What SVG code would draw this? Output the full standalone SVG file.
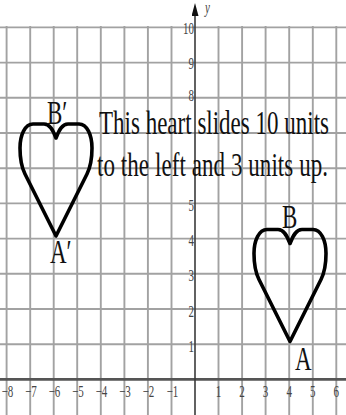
<svg xmlns="http://www.w3.org/2000/svg" width="346" height="415" viewBox="0 0 346 415">
<style>
.grid{stroke:#a2a2a2;stroke-width:1.9;fill:none}
.axis{stroke:#3a3a3a;stroke-width:1.6;fill:none}
.heart{fill:none;stroke:#000;stroke-width:3.6;stroke-linejoin:round}
.big{font-family:"Liberation Serif","Times New Roman",serif;font-size:23px;fill:#111}
.tick{font-family:"Liberation Serif","Times New Roman",serif;font-size:11px;fill:#444}
.ty{text-anchor:end}
.tx{text-anchor:middle}
</style>
<defs>
<marker id="arr" viewBox="0 0 10 10" refX="0" refY="5" markerWidth="13" markerHeight="7" markerUnits="userSpaceOnUse" orient="auto" preserveAspectRatio="none">
<path d="M0,0 L10,5 L0,10 Z" fill="#111"/>
</marker>
<path id="heartShape" d="M0,0 L-31,-62 C-35,-70 -36,-78 -36,-88 C-36,-101 -31,-112 -23,-112 L-12,-112 C-6,-112 -3,-106 0,-98 C3,-106 6,-112 12,-112 L23,-112 C31,-112 36,-101 36,-88 C36,-78 35,-70 31,-62 Z"/>
</defs>
<rect width="346" height="415" fill="#fff"/>
<g id="grid" class="grid">
<path d="M0,27.4H346M0,62.6H346M0,97.8H346M0,133H346M0,168.2H346M0,203.4H346M0,238.6H346M0,273.8H346M0,309H346M0,344.2H346"/>
<path d="M6.6,26V415M30.2,26V415M53.7,26V415M77.2,26V415M100.8,26V415M124.4,26V415M147.9,26V415M171.5,26V415M218.5,26V415M242.1,26V415M265.6,26V415M289.2,26V415M312.8,26V415M336.3,26V415"/>
</g>
<g id="axes">
<path d="M0,379.4H346" stroke="#555" stroke-width="2.6" fill="none"/>
<path class="axis" d="M195,415V16" marker-end="url(#arr)"/>
<text class="tick" transform="translate(205,13) scale(1,1.45)" font-style="italic" font-size="12">y</text>
</g>
<g id="y-ticks" class="tick ty">
<text transform="translate(194,34) scale(1,1.45)">10</text>
<text transform="translate(194,69) scale(1,1.45)">9</text>
<text transform="translate(194,100.5) scale(1,1.45)">8</text>
<text transform="translate(194,211) scale(1,1.45)">5</text>
<text transform="translate(194,246) scale(1,1.45)">4</text>
<text transform="translate(194,281) scale(1,1.45)">3</text>
<text transform="translate(194,317) scale(1,1.45)">2</text>
<text transform="translate(194,352) scale(1,1.45)">1</text>
</g>
<g id="x-ticks" class="tick tx">
<text transform="translate(7.5,397) scale(1,1.45)">−8</text>
<text transform="translate(31,397) scale(1,1.45)">−7</text>
<text transform="translate(54.5,397) scale(1,1.45)">−6</text>
<text transform="translate(78,397) scale(1,1.45)">−5</text>
<text transform="translate(101.5,397) scale(1,1.45)">−4</text>
<text transform="translate(125,397) scale(1,1.45)">−3</text>
<text transform="translate(148.5,397) scale(1,1.45)">−2</text>
<text transform="translate(172.5,397) scale(1,1.45)">−1</text>
<text transform="translate(218.5,397) scale(1,1.45)">1</text>
<text transform="translate(242,397) scale(1,1.45)">2</text>
<text transform="translate(265.6,397) scale(1,1.45)">3</text>
<text transform="translate(289.2,397) scale(1,1.45)">4</text>
<text transform="translate(312.8,397) scale(1,1.45)">5</text>
<text transform="translate(336.3,397) scale(1,1.45)">6</text>
</g>
<g id="heart-original">
<use href="#heartShape" class="heart" transform="translate(290,341.5)"/>
<text class="big" transform="translate(282,228) scale(1,1.45)">B</text>
<text class="big" transform="translate(295,370) scale(1,1.45)">A</text>
</g>
<g id="heart-image">
<use href="#heartShape" class="heart" transform="translate(56,236)"/>
<text class="big" transform="translate(47,124) scale(1,1.45)">B′</text>
<text class="big" transform="translate(50,263) scale(1,1.45)">A′</text>
</g>
<g id="caption">
<text class="big" transform="translate(99,134) scale(1,1.45)" textLength="230" lengthAdjust="spacing">This heart slides 10 units</text>
<text class="big" transform="translate(97,176) scale(1,1.45)" textLength="231" lengthAdjust="spacing">to the left and 3 units up.</text>
</g>
</svg>
